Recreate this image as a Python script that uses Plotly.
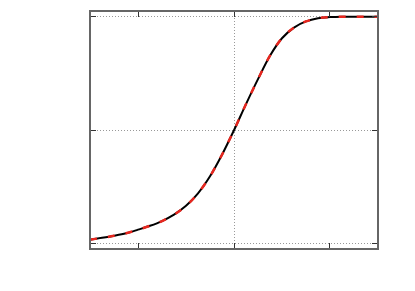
import plotly.graph_objects as go

x_vals = [-3.0, -2.75, -2.5, -2.25, -2.0, -1.75, -1.5, -1.25, -1.0, -0.75, -0.5, -0.25,
          0.0, 0.25, 0.5, 0.75, 1.0, 1.25, 1.5, 1.75, 2.0, 2.25, 2.5, 2.75, 3.0]
y_model = [0.018, 0.026, 0.035, 0.046, 0.062, 0.079, 0.100, 0.128, 0.167, 0.222, 0.297, 0.392,
           0.500, 0.615, 0.725, 0.828, 0.905, 0.952, 0.979, 0.993, 0.998, 1.0, 1.0, 1.0, 1.0]
y_fit = list(y_model)

x_major = [0]
x_minor = [-2, 2]
y_ticks = [0, 0.5, 1]

fig = go.Figure()
fig.add_trace(go.Scatter(x=x_vals, y=y_model, mode="lines",
                         line=dict(color="black", width=2, shape="spline"), showlegend=False))
fig.add_trace(go.Scatter(x=x_vals, y=y_fit, mode="lines",
                         line=dict(color="#e8261e", width=2.5, dash="7px,11px", shape="spline"),
                         showlegend=False))

frame = "#666666"
tickc = "#333333"
grid = "#999999"
fig.update_layout(
    width=415, height=291,
    margin=dict(l=83, r=46, t=2, b=51),
    plot_bgcolor="white", paper_bgcolor="white",
    xaxis=dict(range=[-2.98, 2.98], tickvals=x_major, showticklabels=False,
               ticks="inside", ticklen=5, tickcolor=tickc, tickwidth=1,
               showgrid=True, gridcolor=grid, griddash="1px,2px", gridwidth=1,
               minor=dict(tickvals=x_minor, ticks="inside", ticklen=5, tickcolor=tickc,
                          showgrid=False),
               showline=True, linecolor=frame, linewidth=1.5, mirror="ticks",
               zeroline=False),
    yaxis=dict(range=[-0.0187, 1.0205], tickvals=y_ticks, showticklabels=False,
               ticks="inside", ticklen=5, tickcolor=tickc, tickwidth=1,
               showgrid=True, gridcolor=grid, griddash="1px,2px", gridwidth=1,
               showline=True, linecolor=frame, linewidth=1.5, mirror="ticks",
               zeroline=False),
)

fig.write_html("out.html")
